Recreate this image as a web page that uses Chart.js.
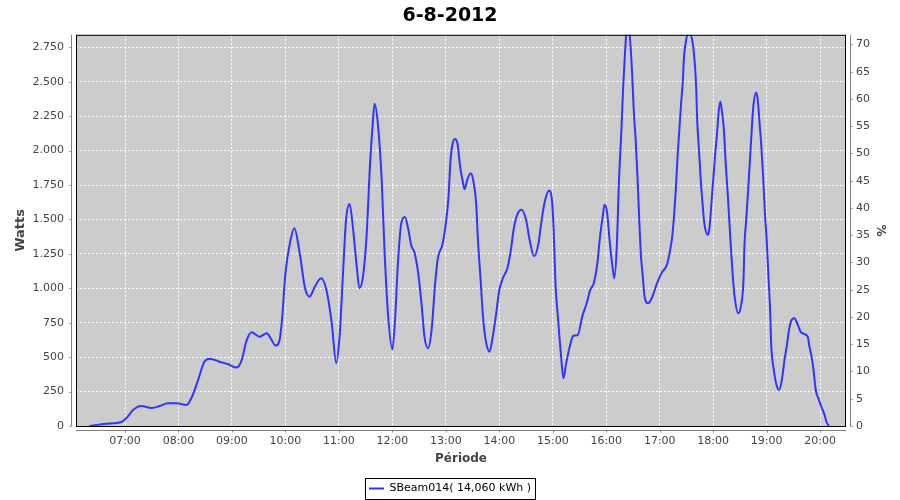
<!DOCTYPE html>
<html>
<head>
<meta charset="utf-8">
<title>6-8-2012</title>
<script src="https://cdn.jsdelivr.net/npm/chart.js@4/dist/chart.umd.min.js"></script>
<style>
    html, body { margin: 0; padding: 0; background: #ffffff; }
    #powerChart { display: block; }
</style>
</head>
<body>
<canvas id="powerChart" width="900" height="500"></canvas>
<script>
// Measured samples (time of day, watts)
const sampleTimes = [
    '06:20', '06:39', '06:56', '07:03', '07:09', '07:18', '07:30', '07:39', '07:48', '07:58',
    '08:09', '08:16', '08:22', '08:29', '08:35', '08:46', '08:56', '09:05', '09:11', '09:16',
    '09:22', '09:31', '09:39', '09:44', '09:49', '09:53', '09:56', '10:00', '10:05', '10:10',
    '10:16', '10:22', '10:27', '10:33', '10:40', '10:46', '10:52', '10:57', '11:01', '11:05',
    '11:08', '11:12', '11:16', '11:20', '11:23', '11:27', '11:31', '11:35', '11:38', '11:40',
    '11:44', '11:48', '11:51', '11:55', '12:00', '12:03', '12:06', '12:10', '12:14', '12:18',
    '12:21', '12:25', '12:29', '12:33', '12:36', '12:40', '12:44', '12:48', '12:51', '12:56',
    '13:00', '13:03', '13:05', '13:07', '13:10', '13:13', '13:16', '13:19', '13:21', '13:24',
    '13:28', '13:31', '13:34', '13:36', '13:39', '13:42', '13:45', '13:49', '13:52', '13:56',
    '14:00', '14:04', '14:09', '14:13', '14:16', '14:20', '14:25', '14:30', '14:34', '14:39',
    '14:44', '14:47', '14:51', '14:56', '14:59', '15:01', '15:03', '15:06', '15:09', '15:12',
    '15:15', '15:19', '15:23', '15:28', '15:33', '15:38', '15:42', '15:46', '15:50', '15:53',
    '15:56', '15:58', '16:01', '16:04', '16:07', '16:09', '16:12', '16:14', '16:17', '16:19',
    '16:21', '16:24', '16:27', '16:29', '16:31', '16:33', '16:35', '16:37', '16:39', '16:41',
    '16:43', '16:47', '16:51', '16:57', '17:02', '17:08', '17:11', '17:14', '17:16', '17:18',
    '17:20', '17:22', '17:24', '17:26', '17:27', '17:29', '17:33', '17:37', '17:39', '17:41',
    '17:42', '17:44', '17:46', '17:48', '17:50', '17:54', '17:56', '17:58', '18:00', '18:02',
    '18:04', '18:06', '18:08', '18:10', '18:12', '18:14', '18:16', '18:18', '18:20', '18:22',
    '18:24', '18:28', '18:31', '18:34', '18:35', '18:37', '18:39', '18:41', '18:43', '18:45',
    '18:48', '18:50', '18:52', '18:54', '18:56', '18:58', '19:00', '19:02', '19:04', '19:05',
    '19:08', '19:11', '19:14', '19:17', '19:20', '19:23', '19:25', '19:28', '19:31', '19:35',
    '19:38', '19:42', '19:46', '19:48', '19:51', '19:53', '19:55', '19:58', '20:02', '20:05',
    '20:07', '20:10'
];

const sampleWatts = [
    0, 17, 29, 68, 116, 145, 131, 145, 165, 165,
    153, 225, 334, 467, 489, 467, 448, 424, 480, 613,
    681, 649, 674, 630, 584, 613, 760, 1110, 1328, 1437,
    1255, 1001, 940, 1012, 1073, 988, 746, 456, 674, 1158,
    1497, 1613, 1424, 1158, 1001, 1085, 1376, 1909, 2200, 2340,
    2175, 1788, 1303, 819, 557, 770, 1158, 1473, 1517, 1424,
    1315, 1255, 1110, 867, 649, 565, 698, 1037, 1219, 1315,
    1473, 1667, 1909, 2030, 2084, 2054, 1884, 1775, 1720, 1788,
    1836, 1775, 1618, 1352, 1061, 770, 613, 540, 625, 794,
    988, 1073, 1146, 1279, 1424, 1533, 1570, 1497, 1352, 1232,
    1328, 1473, 1630, 1710, 1642, 1424, 1037, 770, 528, 347,
    456, 576, 656, 661, 794, 892, 988, 1037, 1182, 1376,
    1521, 1606, 1546, 1328, 1158, 1073, 1328, 1739, 2151, 2466,
    2709, 2950, 2781, 2563, 2273, 2078, 1812, 1497, 1230, 1085,
    940, 892, 928, 1037, 1110, 1170, 1255, 1376, 1521, 1715,
    1957, 2151, 2345, 2515, 2660, 2781, 2860, 2781, 2660, 2442,
    2224, 2006, 1788, 1618, 1473, 1388, 1448, 1618, 1788, 1957,
    2102, 2273, 2357, 2273, 2151, 1909, 1715, 1497, 1279, 1085,
    940, 819, 867, 1061, 1303, 1497, 1691, 1909, 2127, 2320,
    2422, 2369, 2200, 2030, 1812, 1546, 1352, 1085, 819, 601,
    407, 298, 262, 334, 480, 601, 698, 770, 783, 734,
    685, 669, 649, 576, 480, 383, 262, 201, 129, 80,
    31, 0
];

// Axis ticks and ranges
const hourTicks = [7, 8, 9, 10, 11, 12, 13, 14, 15, 16, 17, 18, 19, 20];
const wattTicks = [0, 250, 500, 750, 1000, 1250, 1500, 1750, 2000, 2250, 2500, 2750];
const percentTicks = [0, 5, 10, 15, 20, 25, 30, 35, 40, 45, 50, 55, 60, 65, 70];
const timeRange = ['06:05', '20:29'];
const wattMax = 2841;
const percentMax = 71.76;

const seriesLabel = 'SBeam014( 14,060 kWh )';
const chartTitle = '6-8-2012';

class PowerChart {
    constructor() {
        this.init();
    }

    init() {
        Chart.defaults.font.family = "'DejaVu Sans', sans-serif";
        this.initChart();
    }

    toHours(text) {
        const parts = text.split(':');
        return parseInt(parts[0], 10) + parseInt(parts[1], 10) / 60;
    }

    formatWatts(value) {
        if (value < 1000) return String(value);
        return Math.floor(value / 1000) + '.' + String(value % 1000).padStart(3, '0');
    }

    initChart() {
        const ctx = document.getElementById('powerChart');
        if (!ctx) return;

        const points = sampleTimes.map((t, i) => ({ x: this.toHours(t), y: sampleWatts[i] }));
        const self = this;

        // JFreeChart-like frame: grey plot, black outline, detached axis lines
        const plotFrame = {
            id: 'plotFrame',
            beforeDraw(chart) {
                const { ctx, chartArea: a } = chart;
                ctx.save();
                ctx.fillStyle = '#ffffff';
                ctx.fillRect(0, 0, chart.width, chart.height);
                ctx.fillStyle = '#cccccc';
                ctx.fillRect(a.left, a.top, a.right - a.left, a.bottom - a.top);
                ctx.restore();
            },
            afterDatasetsDraw(chart) {
                const { ctx, chartArea: a, scales } = chart;
                ctx.save();
                ctx.strokeStyle = '#000000';
                ctx.lineWidth = 1;
                ctx.strokeRect(a.left + 0.5, a.top + 0.5, a.right - a.left - 1, a.bottom - a.top);

                ctx.strokeStyle = '#808080';
                ctx.beginPath();
                // left axis
                const lx = a.left - 4.5;
                ctx.moveTo(lx, a.top); ctx.lineTo(lx, a.bottom);
                scales.y.ticks.forEach(t => {
                    const py = Math.round(scales.y.getPixelForValue(t.value)) + 0.5;
                    ctx.moveTo(lx - 2, py); ctx.lineTo(lx, py);
                });
                // right axis
                const rx = a.right + 4.5;
                ctx.moveTo(rx, a.top); ctx.lineTo(rx, a.bottom);
                scales.y1.ticks.forEach(t => {
                    const py = Math.round(scales.y1.getPixelForValue(t.value)) + 0.5;
                    ctx.moveTo(rx, py); ctx.lineTo(rx + 2, py);
                });
                // bottom axis
                const by = a.bottom + 4.5;
                ctx.moveTo(a.left, by); ctx.lineTo(a.right, by);
                scales.x.ticks.forEach(t => {
                    const px = Math.round(scales.x.getPixelForValue(t.value)) + 0.5;
                    ctx.moveTo(px, by); ctx.lineTo(px, by + 2);
                });
                ctx.stroke();
                ctx.restore();
            },
            afterDraw(chart) {
                // boxed legend
                const boxes = chart.legend && chart.legend.legendHitBoxes;
                if (!boxes || !boxes.length) return;
                const hb = boxes[0];
                const ctx = chart.ctx;
                ctx.save();
                ctx.strokeStyle = '#000000';
                ctx.lineWidth = 1;
                ctx.strokeRect(Math.round(hb.left - 4) + 0.5, Math.round(hb.top - 5) + 0.5,
                    Math.round(hb.width + 8), Math.round(hb.height + 10));
                ctx.restore();
            }
        };

        this.chart = new Chart(ctx, {
            type: 'line',
            data: {
                datasets: [
                    {
                        label: seriesLabel,
                        data: points,
                        borderColor: '#3333ff',
                        backgroundColor: '#3333ff',
                        borderWidth: 2,
                        fill: false,
                        pointRadius: 0,
                        cubicInterpolationMode: 'monotone',
                        clip: 0,
                        yAxisID: 'y'
                    }
                ]
            },
            options: {
                responsive: false,
                animation: false,
                devicePixelRatio: 1,
                layout: {
                    padding: { left: 0, right: 0, top: 0, bottom: -4 }
                },
                plugins: {
                    title: {
                        display: true,
                        text: chartTitle,
                        color: '#000000',
                        font: { size: 19, weight: 'bold' },
                        padding: { top: 5, bottom: 7 }
                    },
                    legend: {
                        display: true,
                        position: 'bottom',
                        labels: {
                            usePointStyle: true,
                            pointStyle: 'line',
                            pointStyleWidth: 15,
                            color: '#000000',
                            padding: 6,
                            font: { size: 11 }
                        }
                    },
                    tooltip: { enabled: false }
                },
                scales: {
                    x: {
                        type: 'linear',
                        min: this.toHours(timeRange[0]),
                        max: this.toHours(timeRange[1]),
                        afterBuildTicks: (scale) => {
                            scale.ticks = hourTicks.map(v => ({ value: v }));
                        },
                        afterFit: (scale) => { scale.height = 51; },
                        grid: { color: '#ffffff', lineWidth: 1, drawTicks: false },
                        border: { display: false, dash: [2, 2] },
                        ticks: {
                            color: '#444444',
                            font: { size: 11 },
                            padding: 9,
                            maxRotation: 0,
                            autoSkip: false,
                            callback: (value) => String(value).padStart(2, '0') + ':00'
                        },
                        title: {
                            display: true,
                            text: 'Période',
                            color: '#444444',
                            font: { size: 12, weight: 'bold' },
                            padding: { top: 0, bottom: 10.5 }
                        }
                    },
                    y: {
                        type: 'linear',
                        position: 'left',
                        min: 0,
                        max: wattMax,
                        afterBuildTicks: (scale) => {
                            scale.ticks = wattTicks.map(v => ({ value: v }));
                        },
                        afterFit: (scale) => { scale.width = 76; },
                        grid: { color: '#ffffff', lineWidth: 1, drawTicks: false },
                        border: { display: false, dash: [2, 2] },
                        ticks: {
                            color: '#444444',
                            font: { size: 11 },
                            padding: 12,
                            callback: (value) => self.formatWatts(value)
                        },
                        title: {
                            display: true,
                            text: 'Watts',
                            color: '#444444',
                            font: { size: 13, weight: 'bold' },
                            padding: { top: 12.7, bottom: 0 }
                        }
                    },
                    y1: {
                        type: 'linear',
                        position: 'right',
                        min: 0,
                        max: percentMax,
                        afterBuildTicks: (scale) => {
                            scale.ticks = percentTicks.map(v => ({ value: v }));
                        },
                        afterFit: (scale) => { scale.width = 54; },
                        grid: { display: false, drawTicks: false },
                        border: { display: false },
                        ticks: {
                            color: '#444444',
                            font: { size: 11 },
                            padding: 10
                        },
                        title: {
                            display: true,
                            text: '%',
                            color: '#444444',
                            font: { size: 12, weight: 'bold' },
                            padding: { top: 13, bottom: 0 }
                        }
                    }
                }
            },
            plugins: [plotFrame]
        });
    }
}

// Initialize chart when DOM is loaded
let powerChart;
document.addEventListener('DOMContentLoaded', function() {
    powerChart = new PowerChart();
});
</script>
</body>
</html>
